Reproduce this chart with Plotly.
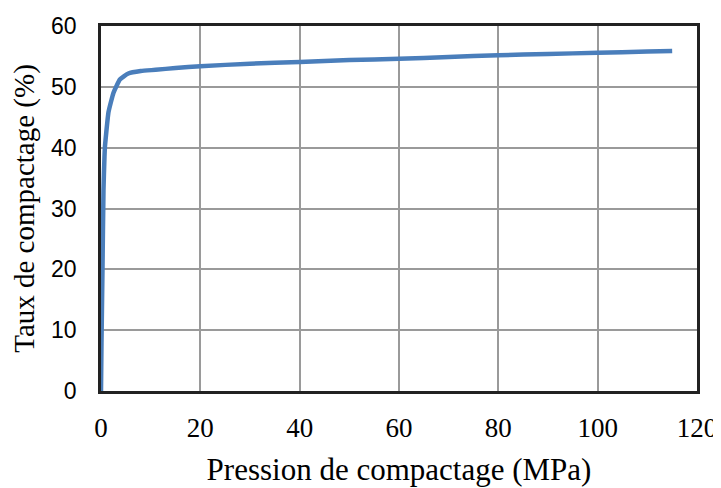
import plotly.graph_objects as go

pression = [0, 0.1, 0.3, 0.5, 0.7, 0.8, 1.0, 1.5, 2.0, 2.5, 3.1, 3.8, 5.5, 8, 11, 15, 20, 30, 40, 50, 60, 70, 80, 90, 100, 110, 115]
taux = [0, 8, 20, 33, 38.5, 40.2, 42, 45.8, 47.5, 49, 50.1, 51.2, 52.2, 52.6, 52.8, 53.1, 53.4, 53.8, 54.1, 54.4, 54.6, 54.9, 55.2, 55.4, 55.6, 55.8, 55.9]

x_ticks = [0, 20, 40, 60, 80, 100, 120]
y_ticks = [0, 10, 20, 30, 40, 50, 60]

fig = go.Figure()
fig.add_trace(go.Scatter(
    x=pression, y=taux, mode="lines",
    line=dict(color="#4A7EBB", width=4.5, shape="spline", smoothing=0.5),
    showlegend=False,
))

fig.update_layout(
    width=713, height=480,
    margin=dict(l=93, r=24, t=18, b=97),
    paper_bgcolor="white", plot_bgcolor="white",
)
fig.update_xaxes(
    range=[0, 120], tickvals=x_ticks, ticktext=[str(v) for v in x_ticks],
    showgrid=True, gridcolor="#9A9A9A", gridwidth=1.5,
    showline=True, linecolor="#222222", linewidth=2.5, mirror=True,
    zeroline=False, ticks="", ticklabelstandoff=11, automargin=False,
    tickfont=dict(family="Liberation Serif", size=27, color="black"),
    title=dict(text="Pression de compactage (MPa)", standoff=17,
               font=dict(family="Liberation Serif", size=31, color="black")),
)
fig.update_yaxes(
    range=[0, 60], tickvals=y_ticks, ticktext=[str(v) for v in y_ticks],
    showgrid=True, gridcolor="#9A9A9A", gridwidth=1.5,
    showline=True, linecolor="#222222", linewidth=2.5, mirror=True,
    zeroline=False, ticks="", ticklabelstandoff=17, automargin=False,
    tickfont=dict(family="Liberation Sans", size=23, color="black"),
    title=dict(text="Taux de compactage (%)", standoff=10,
               font=dict(family="Liberation Serif", size=29, color="black")),
)

fig.write_html("out.html")
